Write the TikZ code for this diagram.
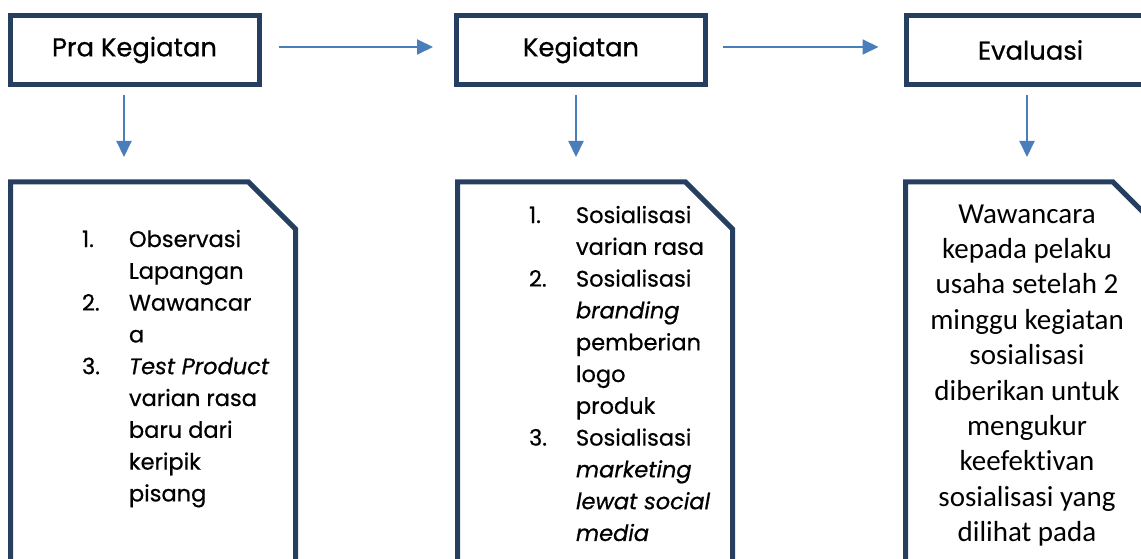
\documentclass[tikz,border=0pt]{standalone}
\usepackage{fontspec}
\setmainfont{Poppins}[FakeBold=0.6]
\newfontfamily\calib{Carlito}[Ligatures=CommonOff]
\usetikzlibrary{arrows.meta}
\definecolor{navy}{HTML}{263F61}
\definecolor{arrblue}{HTML}{4A7EBB}
\begin{document}
\begin{tikzpicture}[x=1pt,y=-1pt,
  topbox/.style={draw=navy, line width=5pt, minimum width=249pt, minimum height=69pt,
    outer sep=0pt, inner sep=0pt, font=\fontsize{25.8}{30}\selectfont},
  arr/.style={draw=arrblue, line width=2pt, -{Triangle[length=16pt,width=15pt]}},
  cutbox/.style={draw=navy, line width=5pt, line join=miter},
  listtext/.style={anchor=base west, inner sep=0pt, outer sep=0pt,
    font=\fontsize{22.5}{31.8}\selectfont},
  evaltext/.style={anchor=base, inner sep=0pt, outer sep=0pt,
    font=\calib\fontsize{29}{35.4}\selectfont},
]
\useasboundingbox (0,0) rectangle (1141,559);
\clip (0,0) rectangle (1141,559);

% top boxes
\node[topbox] (pra) at (134.5,50) {Pra Kegiatan};
\node[topbox] (keg) at (581,50) {Kegiatan};
\node[topbox] (eva) at (1030.5,50) {Evaluasi};

% bottom cut-corner boxes
\draw[cutbox] (10.5,620) -- (10.5,182) -- (248.5,182) -- (295.5,229) -- (295.5,620);
\draw[cutbox] (457.5,620) -- (457.5,182) -- (685.5,182) -- (732.5,229) -- (732.5,620);
\draw[cutbox] (905.5,620) -- (905.5,182) -- (1113,182) -- (1160,229) -- (1160,620);

% arrow tips below
\coordinate (t1) at (124,157);
\coordinate (t2) at (576,157);
\coordinate (t3) at (1027,157);

% horizontal arrows
\draw[arr, shorten <=19.5pt, shorten >=23.5pt] ([yshift=3pt]pra.east) -- ([yshift=3pt]keg.west);
\draw[arr, shorten <=17.5pt, shorten >=27.5pt] ([yshift=3pt]keg.east) -- ([yshift=3pt]eva.west);

% vertical arrows
\draw[arr, shorten <=10.5pt] ([xshift=-10.5pt]pra.south) -- (t1);
\draw[arr, shorten <=10.5pt] ([xshift=-5pt]keg.south) -- (t2);
\draw[arr, shorten <=10.5pt] ([xshift=-3.5pt]eva.south) -- (t3);

% list texts
\node[listtext] (l1) at (82,247) {\begin{tabular}[t]{@{}p{47pt}@{}l@{}}
1. & Observasi\\
   & Lapangan\\
2. & Wawancar\\
   & a\\
3. & \textit{Test Product}\\
   & varian rasa\\
   & baru dari\\
   & keripik\\
   & pisang
\end{tabular}};

\node[listtext] (l2) at (529,223) {\begin{tabular}[t]{@{}p{47pt}@{}l@{}}
1. & Sosialisasi\\
   & varian rasa\\
2. & Sosialisasi\\
   & \textit{branding}\\
   & pemberian\\
   & logo\\
   & produk\\
3. & Sosialisasi\\
   & \textit{marketing}\\
   & \textit{lewat social}\\
   & \textit{media}
\end{tabular}};

\node[evaltext] (l3) at (1027,223) {\begin{tabular}[t]{@{}c@{}}
Wawancara\\
kepada pelaku\\
usaha setelah 2\\
minggu kegiatan\\
sosialisasi\\
diberikan untuk\\
mengukur\\
keefektivan\\
sosialisasi yang\\
dilihat pada
\end{tabular}};
\end{tikzpicture}
\end{document}
